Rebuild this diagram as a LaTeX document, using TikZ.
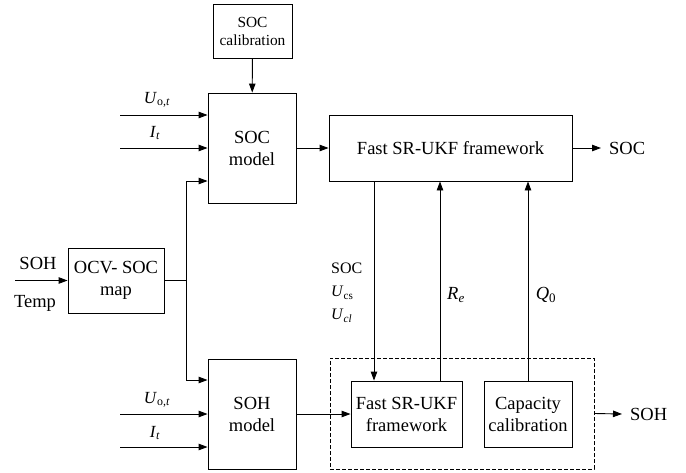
\documentclass[tikz,border=0pt]{standalone}
\usepackage{fontspec}
\setmainfont{Liberation Serif}
\usetikzlibrary{arrows.meta}

% font sizes used in the diagram
\newcommand{\bigfont}{\fontsize{18.5}{22}\selectfont}
\newcommand{\calfont}{\fontsize{15.4}{18}\selectfont}
\newcommand{\labfont}{\fontsize{17}{20}\selectfont}
\newcommand{\smallfont}{\fontsize{16}{23}\selectfont}
% italic symbol with a lowered subscript
\newcommand{\symsub}[2]{\textit{#1}\textsubscript{#2}}

\begin{document}
\begin{tikzpicture}[x=1pt,y=-1pt,
  box/.style={draw, line width=0.9pt, inner sep=0pt, align=center, font=\bigfont},
  arr/.style={-{Triangle[length=9pt,width=6.5pt]}, line width=0.9pt},
  ln/.style={line width=0.9pt},
  txt/.style={inner sep=0pt}]
\useasboundingbox (0,0) rectangle (686,472);

% blocks
\node[box, minimum width=79pt, minimum height=54pt, font=\calfont] (calib) at (252.5,31) {SOC\\calibration};
\node[box, minimum width=88pt, minimum height=110pt] (socm) at (252,148) {SOC\\model};
\node[box, minimum width=243pt, minimum height=66pt] (fast) at (450.5,148) {Fast SR-UKF framework};
\node[box, minimum width=96pt, minimum height=65pt] (ocv) at (116,280.5) {OCV- SOC\\map};
\node[box, minimum width=88pt, minimum height=110pt] (sohm) at (252,414) {SOH\\model};
\node[draw, dash pattern=on 4pt off 2pt, line width=0.7pt, minimum width=264pt, minimum height=111pt, inner sep=0pt] (grp) at (462,413.5) {};
\node[box, minimum width=111pt, minimum height=66pt] (fast2) at (406.5,414) {Fast SR-UKF\\framework};
\node[box, minimum width=88pt, minimum height=66pt] (cap) at (528,414) {Capacity\\calibration};

% outputs
\node[txt, anchor=west, inner xsep=8pt, font=\bigfont] (socout) at (601,148) {SOC};
\node[txt, anchor=west, inner xsep=8pt, font=\bigfont] (sohout) at (622,414) {SOH};

% free ends of the input lines
\coordinate (u1) at (120,115);
\coordinate (i1) at (120,148);
\coordinate (u2) at (120,414);
\coordinate (i2) at (120,447);
\coordinate (sohin) at (15,280.5);
\coordinate (j) at (186,280.5);
\coordinate (xa) at (374,0);
\coordinate (xb) at (440,0);

% input labels
\node[txt, font=\labfont] at (157,100) {\symsub{U}{o,\textit{t}}};
\node[txt, font=\labfont] at (155,133) {\symsub{I}{\textit{t}}};
\node[txt, font=\labfont] at (157,400) {\symsub{U}{o,\textit{t}}};
\node[txt, font=\labfont] at (155,433) {\symsub{I}{\textit{t}}};
\node[txt, font=\bigfont] at (38,263) {SOH};
\node[txt, font=\bigfont] at (35,303) {Temp};

% signal labels on the vertical links
\node[txt, anchor=west, align=left, font=\smallfont] at (331,293) {SOC\\\symsub{U}{cs}\\\symsub{U}{\textit{cl}}};
\node[txt, font=\bigfont] at (456,295) {\symsub{R}{\textit{e}}};
\node[txt, font=\bigfont] at (546,295) {\symsub{Q}{0}};

% connectors
\draw[arr] (calib) -- (socm);
\draw[arr] (u1) -- ([yshift=33pt]socm.west);
\draw[arr] (i1) -- (socm.west);
\draw[arr] (socm.east) -- (fast.west);
\draw[arr] (fast.east) -- (socout.west);

\draw[arr] (sohin) -- (ocv.west);
\draw[ln] (ocv.east) -- (j);
\draw[arr] (j) |- ([yshift=-33pt]socm.west);
\draw[arr] (j) |- ([yshift=34pt]sohm.west);

\draw[arr] (u2) -- (sohm.west);
\draw[arr] (i2) -- ([yshift=-33pt]sohm.west);
\draw[arr] (sohm.east) -- (fast2.west);

\draw[arr] (fast.south -| xa) -- (fast2.north -| xa);
\draw[arr] (fast2.north -| xb) -- (fast.south -| xb);
\draw[arr] (cap.north) -- (fast.south -| cap.north);
\draw[arr] (grp.east) -- (sohout.west);
\end{tikzpicture}
\end{document}
